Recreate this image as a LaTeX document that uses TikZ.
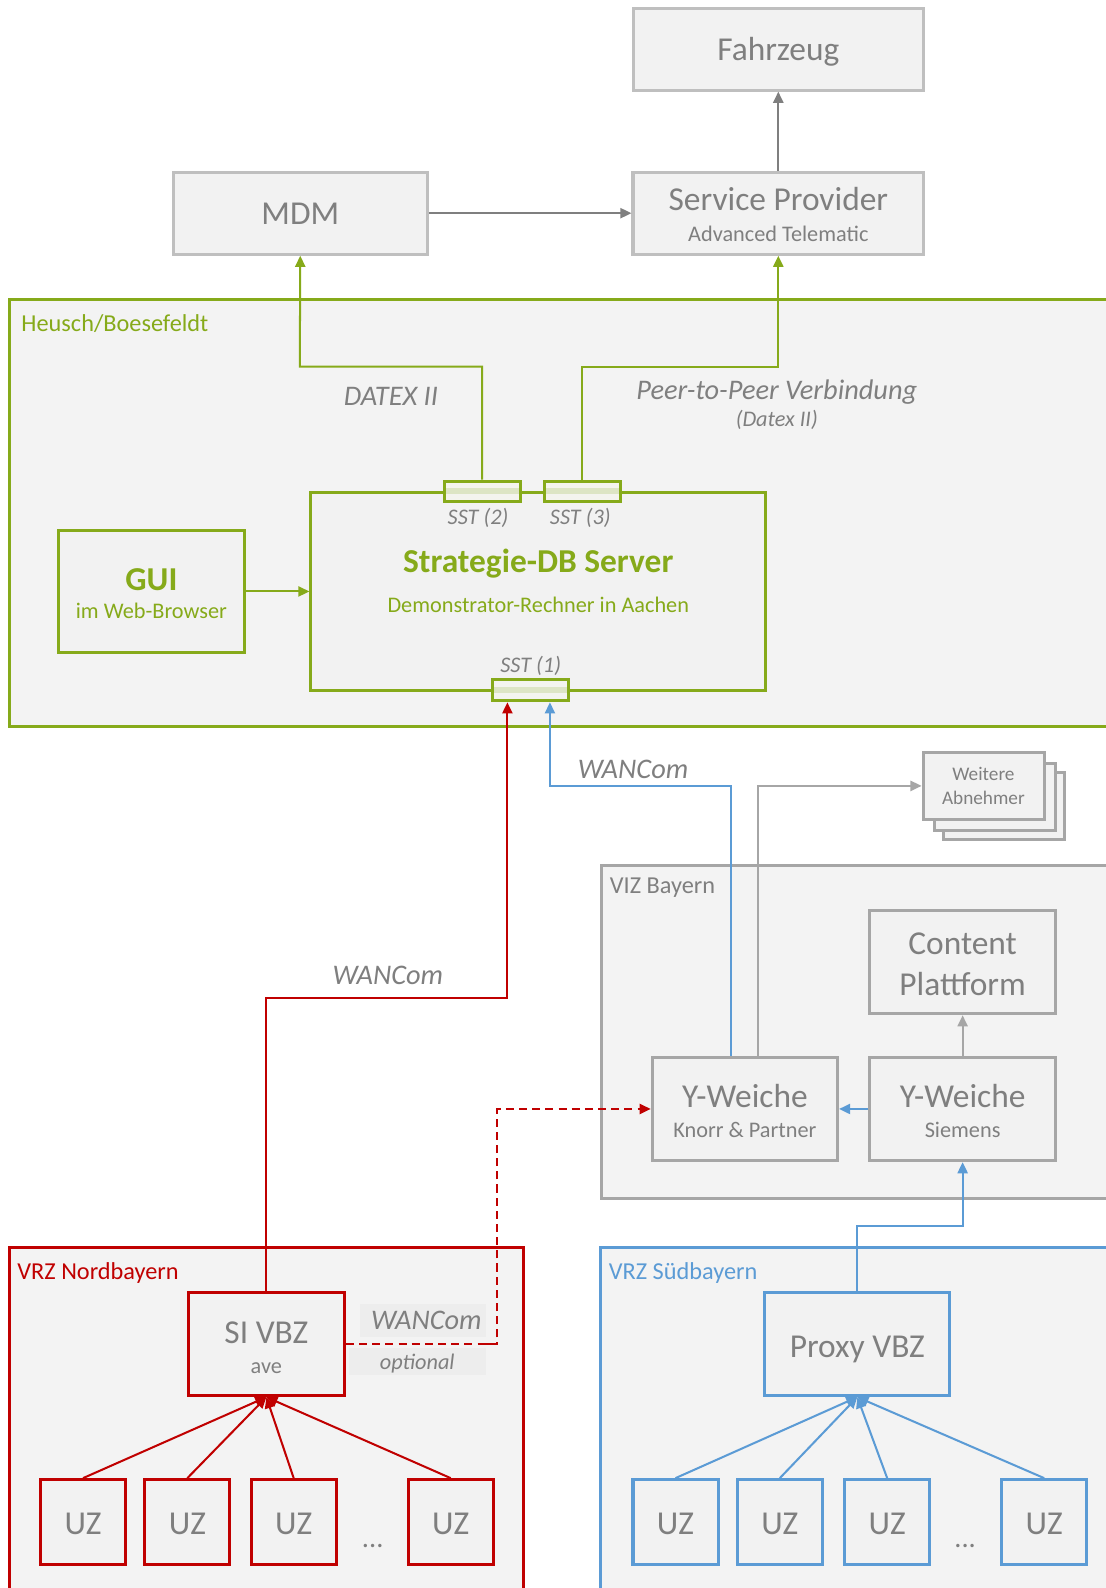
\documentclass[tikz,border=0pt]{standalone}
\usepackage{fontspec}
\setmainfont{Carlito}
\usetikzlibrary{arrows.meta}
\definecolor{cgreen}{RGB}{134,170,26}
\definecolor{cred}{RGB}{192,0,0}
\definecolor{cblue}{RGB}{91,155,213}
\definecolor{cgrayb}{RGB}{191,191,191}
\definecolor{cgrayc}{RGB}{166,166,166}
\definecolor{cgrayd}{RGB}{127,127,127}
\definecolor{ctext}{RGB}{127,127,127}
\definecolor{cfill}{RGB}{242,242,242}
\definecolor{cbg}{RGB}{243,243,243}
\definecolor{clabbg}{RGB}{237,237,237}
\definecolor{csstfill}{RGB}{244,244,238}
\definecolor{csstband}{RGB}{221,229,196}
\begin{document}
\begin{tikzpicture}[x=1pt,y=-1pt,
  box/.style={draw=#1,line width=3pt,fill=cfill,inner sep=0pt,rectangle},
  box/.default=cgrayb,
  cont/.style={draw=#1,line width=3pt,fill=cbg},
  big/.style={font=\fontsize{33}{36}\selectfont,text=ctext,anchor=base,inner sep=0pt},
  small/.style={font=\fontsize{22}{26}\selectfont,text=ctext,anchor=base,inner sep=0pt},
  lab/.style={font=\itshape\fontsize{28}{32}\selectfont,text=ctext,anchor=base,inner sep=0pt},
  labs/.style={font=\itshape\fontsize{22}{26}\selectfont,text=ctext,anchor=base,inner sep=0pt},
  clab/.style={font=\fontsize{24}{28}\selectfont,anchor=base west,inner sep=0pt},
  conn/.style={line width=2pt,-{Triangle[length=11pt,width=10pt]}},
  sst/.style={draw=cgreen,line width=3pt,fill=csstfill,minimum width=75pt,minimum height=20pt,inner sep=0pt,
    path picture={\fill[csstband] ([yshift=-3pt]path picture bounding box.west) rectangle ([yshift=3pt]path picture bounding box.east);}},
]
\useasboundingbox (0,0) rectangle (1092,1568);
\fill[white] (0,0) rectangle (1092,1568);

% containers
\draw[cont=cgreen] (1110,296) -- (9,296) -- (9,717) -- (1110,717);
\fill[cbg] (10.5,297.5) rectangle (1110,715.5);
\draw[cont=cgrayc] (1110,855) -- (594,855) -- (594,1183) -- (1110,1183);
\fill[cbg] (595.5,856.5) rectangle (1110,1181.5);
\draw[cont=cred] (9,1232) rectangle (517,1590);
\draw[cont=cblue] (1110,1232) -- (593,1232) -- (593,1590);
\fill[cbg] (594.5,1233.5) rectangle (1110,1590);

\node[clab,text=cgreen] (tHB) at (21,327) {Heusch/Boesefeldt};
\node[clab,text=ctext] (tVIZ) at (602,882) {VIZ Bayern};
\node[clab,text=cred] (tVN) at (17,1263) {VRZ Nordbayern};
\node[clab,text=cblue] (tVS) at (601,1263) {VRZ Südbayern};

% top boxes
\node[box,minimum width=286pt,minimum height=81pt] (Fz) at (768.5,48.5) {};
\node[box,minimum width=287pt,minimum height=81pt] (SP) at (768.5,210.5) {};
\node[box,minimum width=251pt,minimum height=81pt] (MDM) at (296.5,210.5) {};
\node[big] (tFz) at (768.5,60) {Fahrzeug};
\node[big] (tSP) at (768.5,208) {Service Provider};
\node[small] (tSP2) at (768.5,238) {Advanced Telematic};
\node[big] (tMDM) at (296.5,222) {MDM};

% Heusch content
\node[box=cgreen,minimum width=449pt,minimum height=196pt] (SDB) at (531.5,584) {};
\node[box=cgreen,minimum width=183pt,minimum height=121pt] (GUI) at (149.5,584) {};
\node[sst] (SST2) at (476,485) {};
\node[sst] (SST3) at (575,485) {};
\node[sst,minimum height=21pt] (SST1) at (523.5,681.5) {};
\node[big,font=\bfseries\fontsize{33}{36}\selectfont,text=cgreen] (tSDB) at (531.5,565) {Strategie-DB Server};
\node[small,text=cgreen] (tSDB2) at (531.5,605) {Demonstrator-Rechner in Aachen};
\node[big,font=\bfseries\fontsize{33}{36}\selectfont,text=cgreen] (tGUI) at (149.5,583) {GUI};
\node[small,text=cgreen] (tGUI2) at (149.5,611) {im Web-Browser};
\node[labs] (tS2) at (472,518) {SST (2)};
\node[labs] (tS3) at (573,518) {SST (3)};
\node[labs] (tS1) at (524,664) {SST (1)};
\node[lab] (tDX) at (386,400) {DATEX II};
\node[lab] (tP2P) at (767,394) {Peer-to-Peer Verbindung};
\node[labs] (tP2P2) at (767,421) {(Datex II)};

% Weitere Abnehmer
\node[box=cgrayc,minimum width=120pt,minimum height=66pt] (W3) at (991.5,796) {};
\node[box=cgrayc,minimum width=120pt,minimum height=66pt] (W2) at (982.5,787) {};
\node[box=cgrayc,minimum width=120pt,minimum height=66pt] (W1) at (971.5,776) {};
\node[font=\fontsize{19}{22}\selectfont,text=ctext,anchor=base,inner sep=0pt] (tW1) at (971,771) {Weitere};
\node[font=\fontsize{19}{22}\selectfont,text=ctext,anchor=base,inner sep=0pt] (tW2) at (971,794) {Abnehmer};

% VIZ content
\node[box=cgrayc,minimum width=183pt,minimum height=102pt] (CP) at (950.5,950) {};
\node[box=cgrayc,minimum width=183pt,minimum height=102pt] (YK) at (735.5,1095) {};
\node[box=cgrayc,minimum width=183pt,minimum height=102pt] (YS) at (950.5,1095) {};
\node[big] (tCP1) at (950.5,942) {Content};
\node[big] (tCP2) at (950.5,983) {Plattform};
\node[big] (tYK) at (735.5,1094) {Y-Weiche};
\node[small] (tYK2) at (735.5,1123) {Knorr \& Partner};
\node[big] (tYS) at (950.5,1094) {Y-Weiche};
\node[small] (tYS2) at (950.5,1123) {Siemens};

% VRZ content
\node[box=cred,minimum width=154pt,minimum height=102pt] (SI) at (263,1327) {};
\node[big] (tSI) at (263,1327) {SI VBZ};
\node[small] (tSI2) at (263,1356) {ave};
\node[box=cblue,minimum width=183pt,minimum height=102pt] (PX) at (846.5,1327) {};
\node[big] (tPX) at (846.5,1340) {Proxy VBZ};

\foreach \n/\x in {R1/82,R2/185,R3/290,R4/445}{
  \node[box=cred,minimum width=84pt,minimum height=84pt] (UZ\n) at (\x,1503) {};
  \node[big] (tUZ\n) at (\x,1515) {UZ};
}
\foreach \n/\x in {B1/667,B2/770,B3/876,B4/1031}{
  \node[box=cblue,minimum width=84pt,minimum height=84pt] (UZ\n) at (\x,1503) {};
  \node[big] (tUZ\n) at (\x,1515) {UZ};
}
\node[big,font=\fontsize{28}{30}\selectfont] (dotsR) at (368,1528) {...};
\node[big,font=\fontsize{28}{30}\selectfont] (dotsB) at (953,1528) {...};

% connectors top
\draw[conn,cgrayd] (MDM.east) -- (SP.west);
\draw[conn,cgrayd] (SP.north) -- (Fz.south);
\coordinate (d1) at (296,362);
\coordinate (p1) at (768.5,362);
\draw[conn,cgreen] (SST2.north) |- (d1) -- (MDM.south);
\draw[conn,cgreen] (SST3.north) |- (p1) -- (SP.south);
\draw[conn,cgreen] (GUI.east) -- (SDB.west);
% redraw SST boxes above green lines
\node[sst] at (SST2) {};
\node[sst] at (SST3) {};

% WANCom connectors
\coordinate (r1) at (501,985);
\draw[conn,cred] (SI.north) |- (r1) -- (r1 |- SST1.south);
\coordinate (b1) at (543,776);
\draw[conn,cblue] ([xshift=-13.5pt]YK.north) |- (b1) -- (b1 |- SST1.south);
\draw[conn,cgrayc] ([xshift=12.5pt]YK.north) |- (W1.west);
\node[lab] (tWA1) at (625,769) {WANCom};
\node[lab] (tWA2) at (383,972) {WANCom};

% VIZ connectors
\draw[conn,cgrayc] (YS.north) -- (CP.south);
\draw[conn,cblue] (YS.west) -- (YK.east);
\coordinate (s1) at (950.5,1211);
\draw[conn,cblue] (PX.north) |- (s1) -- (YS.south);

% optional dashed
\coordinate (dd) at (491,1095);
\draw[conn,cred,dash pattern=on 8pt off 5pt] (SI.east) -| (dd) -- (YK.west);
\fill[clabbg] (355,1288) rectangle (480,1320);
\fill[clabbg] (345,1331) rectangle (480,1358);
\node[lab] (tWA3) at (421,1313) {WANCom};
\node[labs] (tOpt) at (412,1352) {optional};
\draw[cred,line width=2pt,dash pattern=on 8pt off 5pt] (480,1327) -- (491,1327);

% UZ connectors
\foreach \n in {R1,R2,R3,R4}{\draw[conn,cred] (UZ\n.north) -- (SI.south);}
\foreach \n in {B1,B2,B3,B4}{\draw[conn,cblue] (UZ\n.north) -- (PX.south);}
\end{tikzpicture}
\end{document}
